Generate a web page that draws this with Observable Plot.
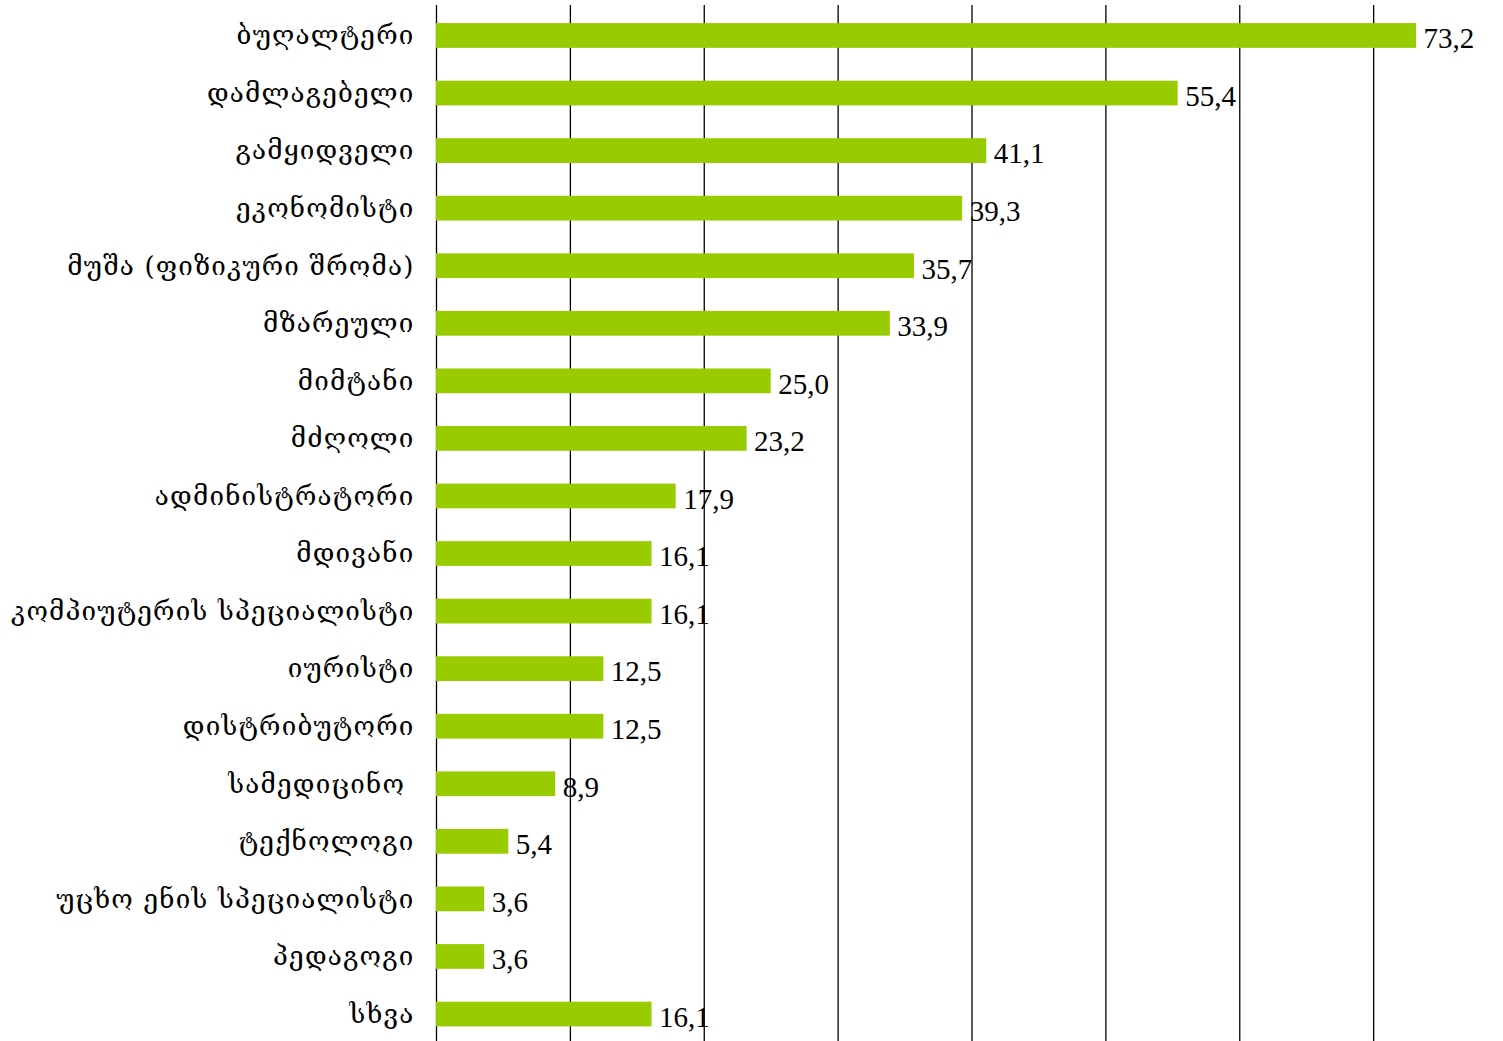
<!DOCTYPE html>
<html>
<head>
<meta charset="utf-8">
<script src="https://cdn.jsdelivr.net/npm/d3@7"></script>
<script src="https://cdn.jsdelivr.net/npm/@observablehq/plot@0.6"></script>
<style>
  html, body { margin: 0; padding: 0; background: #fff; overflow: hidden; }
  .cat-labels text { letter-spacing: 1.2px; }
</style>
</head>
<body>
<div id="chart"></div>
<script>
const categories = [
  "ბუღალტერი",
  "დამლაგებელი",
  "გამყიდველი",
  "ეკონომისტი",
  "მუშა (ფიზიკური შრომა)",
  "მზარეული",
  "მიმტანი",
  "მძღოლი",
  "ადმინისტრატორი",
  "მდივანი",
  "კომპიუტერის სპეციალისტი",
  "იურისტი",
  "დისტრიბუტორი",
  "სამედიცინო\u00a0",
  "ტექნოლოგი",
  "უცხო ენის სპეციალისტი",
  "პედაგოგი",
  "სხვა"
];
const values = [73.2, 55.4, 41.1, 39.3, 35.7, 33.9, 25.0, 23.2, 17.9, 16.1, 16.1, 12.5, 12.5, 8.9, 5.4, 3.6, 3.6, 16.1];
const gridTicks = [0, 10, 20, 30, 40, 50, 60, 70];

const data = categories.map((c, i) => ({cat: c, value: values[i]}));
const fmt = v => v.toFixed(1).replace(".", ",");

const chart = Plot.plot({
  width: 1503,
  height: 1041,
  marginLeft: 436,
  marginRight: 0,
  marginTop: 5,
  marginBottom: 0,
  style: {fontFamily: "'DejaVu Serif', serif", background: "#fff"},
  x: {domain: [0, 79.7], axis: null},
  y: {domain: categories, range: [6.7, 1042.8], paddingInner: 0.57, paddingOuter: 0.285, round: false, axis: null},
  marks: [
    Plot.ruleX(gridTicks, {stroke: "#000", strokeWidth: 1.3}),
    Plot.barX(data, {y: "cat", x: "value", fill: "#99cc00"}),
    Plot.text(data, {
      y: "cat", x: "value", text: d => fmt(d.value),
      textAnchor: "start", dx: 7, dy: 3,
      fontSize: 29, fontFamily: "'Liberation Serif', 'Times New Roman', serif", fill: "#000"
    }),
    Plot.text(data, {
      y: "cat", x: 0, text: "cat",
      textAnchor: "end", dx: -22, dy: 0,
      fontSize: 26, fill: "#000", className: "cat-labels"
    })
  ]
});
document.getElementById("chart").appendChild(chart);
</script>
</body>
</html>
